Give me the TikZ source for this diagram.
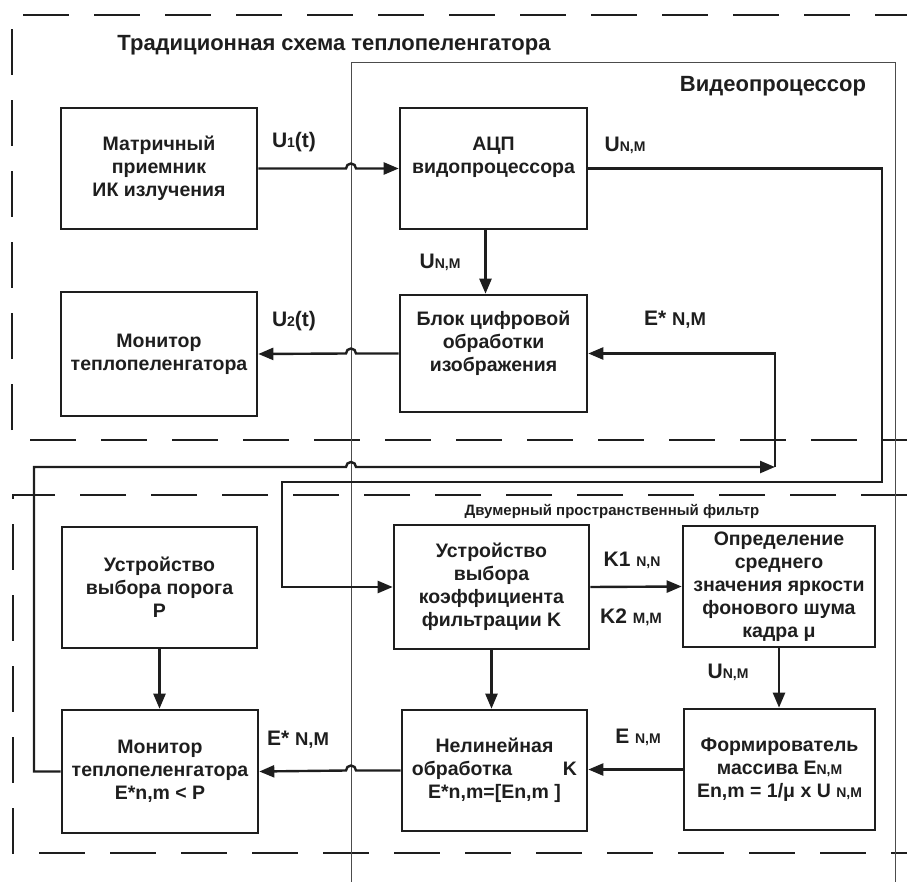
\documentclass[tikz,border=0pt]{standalone}
\usepackage{fontspec}
\setmainfont{Liberation Sans}
\usetikzlibrary{arrows.meta,calc}
\definecolor{ink}{HTML}{1E1E1E}
\newcommand\boxfont{\fontsize{19.5}{23}\selectfont\bfseries}
\newcommand\lblfont{\fontsize{21}{23}\selectfont\bfseries}
\newcommand\ttlfont{\fontsize{22}{24}\selectfont\bfseries}
\newcommand\smc[1]{{\fontsize{14}{14}\selectfont #1}}
\begin{document}
\begin{tikzpicture}[x=1pt,y=-1pt,
  box/.style={draw=ink, line width=2.6pt, align=center, font=\boxfont, text=ink, inner sep=0pt},
  conn/.style={draw=ink, line width=2.4pt, -{Triangle[length=15pt,width=12pt]}},
  grp/.style={draw=ink, line width=2.3pt, dash pattern=on 46pt off 25pt},
  thin/.style={draw=black!70, line width=0.8pt},
  lbl/.style={font=\lblfont, text=ink, inner sep=0pt},
  ttl/.style={font=\ttlfont, text=ink, inner sep=0pt}]
\useasboundingbox (0,0) rectangle (907,882);
% group frames
\draw[grp] (12,430) -- (12,15) -- (907,15);
\draw[grp] (30,440) -- (907,440);
\draw[grp] (907,495) -- (13,495) -- (13,853) -- (907,853);
\draw[thin] (351,882) -- (351,62) -- (895,62) -- (895,882);
\coordinate (vl) at (351,0);
% titles
\node[ttl] (t1) at (334,45) {Традиционная схема теплопеленгатора};
\node[ttl] (t2) at (773,86) {Видеопроцессор};
\node[ttl, font=\fontsize{15}{16}\selectfont\bfseries] (t3) at (612,511) {Двумерный пространственный фильтр};
% boxes
\node[box, minimum width=196, minimum height=121] (m1) at (159,168.5) {Матричный\\приемник\\ИК излучения};
\node[box, minimum width=187, minimum height=121] (adc) at (493.5,168.5) {АЦП\\видопроцессора\\[4pt]};
\node[box, minimum width=196, minimum height=124] (mon1) at (159,354) {Монитор\\теплопеленгатора};
\node[box, minimum width=187, minimum height=117] (dsp) at (493.5,353.5) {Блок цифровой\\обработки\\изображения\\[2pt]};
\node[box, minimum width=195, minimum height=121] (p) at (159.5,587.5) {Устройство\\выбора порога\\P};
\node[box, minimum width=196, minimum height=123] (mon2) at (160,771.5) {Монитор\\теплопеленгатора\\E*n,m < P};
\node[box, minimum width=195, minimum height=124] (k) at (491.5,587) {Устройство\\выбора\\коэффициента\\фильтрации K};
\node[box, minimum width=185, minimum height=121] (nl) at (494.5,770.5) {Нелинейная\\обработка\hspace{2.6em}K\\E*n,m=[En,m ]};
\node[box, minimum width=192, minimum height=121] (avg) at (779,586.5) {Определение\\среднего\\значения яркости\\фонового шума\\кадра μ};
\node[box, minimum width=191, minimum height=121] (form) at (779.5,769.5) {Формирователь\\массива E\smc{N,M}\\En,m = 1/μ x U \smc{N,M}};
% connector labels
\node[lbl] (l1) at (294,142) {U\smc{1}(t)};
\node[lbl] (l2) at (625,145) {U\smc{N,M}};
\node[lbl] (l3) at (440,262) {U\smc{N,M}};
\node[lbl] (l4) at (294,321) {U\smc{2}(t)};
\node[lbl] (l5) at (675,320) {E* \fontsize{18.5}{18}\selectfont N,M};
\node[lbl] (l6) at (632,560) {K1 \smc{N,N}};
\node[lbl] (l7) at (631,617) {K2 \fontsize{15}{16}\selectfont M,M};
\node[lbl] (l8) at (728,672) {U\smc{N,M}};
\node[lbl] (l9) at (638,737) {E \smc{N,M}};
\node[lbl] (l10) at (298,740) {E* \fontsize{18.5}{18}\selectfont N,M};
% coordinates for routing
\coordinate (c1) at (882,482);
\coordinate (c2) at (282,482);
\coordinate (fl) at (34,467);
\coordinate (fb) at (775,467);
% connectors
\draw[conn] (m1.east) -- ($(vl |- m1.east)+(-5,0)$) arc[start angle=180,end angle=0,radius=5pt] -- (adc.west);
\draw[conn] (adc.east) -| (c1) -- (c2) |- (k.west);
\draw[conn] ([xshift=-8pt]adc.south) -- ([xshift=-8pt]dsp.north);
\draw[conn] (dsp.west) -- ($(vl |- dsp.west)+(5,0)$) arc[start angle=0,end angle=180,radius=5pt] -- (mon1.east);
\draw[conn] (mon2.west) -| (fl) -- ($(vl |- fl)+(-5,0)$) arc[start angle=180,end angle=0,radius=5pt] -- (fb);
\draw[conn] (fb) |- (dsp.east);
\draw[conn] (k.east) -- (avg.west);
\draw[conn] (k.south) -- (k.south |- nl.north);
\draw[conn] (avg.south) -- (avg.south |- form.north);
\draw[conn] (form.west) -- (form.west -| nl.east);
\draw[conn] (nl.west) -- ($(vl |- nl.west)+(5,0)$) arc[start angle=0,end angle=180,radius=5pt] -- (mon2.east);
\draw[conn] (p.south) -- (p.south |- mon2.north);
\end{tikzpicture}
\end{document}
